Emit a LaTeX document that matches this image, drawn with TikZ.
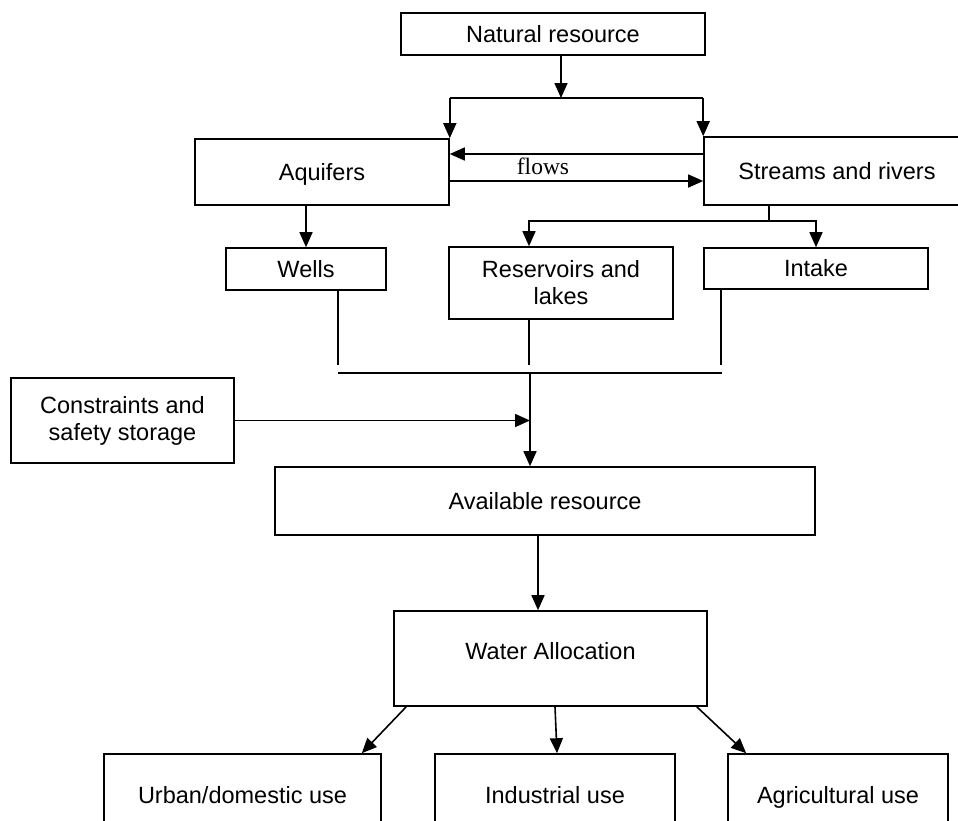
\documentclass[tikz,border=0pt]{standalone}
\usepackage{fontspec}
\setmainfont{Liberation Sans}
\newfontfamily\flowfont{Liberation Serif}
\usetikzlibrary{arrows.meta}

\begin{document}
\begin{tikzpicture}[x=1pt,y=-1pt,line width=1.6pt,
		box/.style={draw,inner sep=0pt,align=center,font=\fontsize{23.5}{27}\selectfont},
		oneline/.style={text height=21.8pt,text depth=5pt},
		arr/.style={-{Triangle[length=15pt,width=13pt]}}]
		\useasboundingbox (0,0) rectangle (958,820);
		%%%%%%%%%%%%%%%%%%%%%%%%%%%%%%%%%
		\node[box,oneline,minimum width=304pt,minimum height=42pt] (nat) at (553,34) {Natural resource};
		\node[box,oneline,minimum width=254pt,minimum height=66pt] (aqu) at (322,172) {Aquifers};
		\node[box,oneline,minimum width=266pt,minimum height=68pt] (str) at (837,171) {Streams and rivers};
		\node[font=\flowfont\fontsize{23.5}{27}\selectfont] (flw) at (543,166) {flows};
		\coordinate (top) at (561,98);
		\coordinate (fl1) at (0,154);
		\coordinate (fl2) at (0,181);
		\draw[arr] (nat.south -| top) -- (top);
		\draw (aqu.north east |- top) -- (str.north west |- top);
		\draw[arr] (aqu.north east |- top) -- (aqu.north east);
		\draw[arr] (str.north west |- top) -- (str.north west);
		\draw[arr] (str.west |- fl1) -- (aqu.east |- fl1);
		\draw[arr] (aqu.east |- fl2) -- (str.west |- fl2);
		%%%%%%%%%%%%%%%%%%%%%%%%%%%%%%%%%
		\node[box,oneline,minimum width=160pt,minimum height=42pt] (wel) at (306,269) {Wells};
		\node[box,minimum width=224pt,minimum height=72pt] (res) at (561,283) {Reservoirs and\\lakes};
		\node[box,oneline,minimum width=224pt,minimum height=41pt] (int) at (816,268.5) {Intake};
		\coordinate (sb) at (769,221);
		\coordinate (rj) at (529,221);
		\draw[arr] (aqu.south -| wel.north) -- (wel.north);
		\draw (str.south -| sb) -- (sb);
		\draw[arr] (sb) -| (int.north);
		\draw[arr] (sb) -- (rj) -- (res.north -| rj);
		%%%%%%%%%%%%%%%%%%%%%%%%%%%%%%%%%
		\coordinate (wj) at (338,365);
		\coordinate (rsj) at (529,365);
		\coordinate (ij) at (721,365);
		\coordinate (hl) at (338,373);
		\coordinate (hr) at (722,373);
		\coordinate (bj) at (530,373);
		\draw (wel.south -| wj) -- (wj);
		\draw (res.south -| rsj) -- (rsj);
		\draw (int.south -| ij) -- (ij);
		\draw (hl) -- (hr);
		%%%%%%%%%%%%%%%%%%%%%%%%%%%%%%%%%
		\node[box,minimum width=223pt,minimum height=85pt] (con) at (122.5,420.5) {Constraints and\\safety storage};
		\node[box,oneline,minimum width=540pt,minimum height=68pt] (ava) at (545,501) {Available resource};
		\draw[arr] (bj) -- (ava.north -| bj);
		\draw[arr] (con.east) -- (con.east -| bj);
		%%%%%%%%%%%%%%%%%%%%%%%%%%%%%%%%%
		\node[box,text height=16.8pt,text depth=15pt,minimum width=313pt,minimum height=95pt] (wat) at (550.5,658.5) {Water Allocation};
		\coordinate (aw) at (538,0);
		\draw[arr] (ava.south -| aw) -- (wat.north -| aw);
		\node[box,oneline,minimum width=277pt,minimum height=82pt] (urb) at (242.5,795) {Urban/domestic use};
		\node[box,oneline,minimum width=240pt,minimum height=82pt] (ind) at (555,795) {Industrial use};
		\node[box,oneline,minimum width=220pt,minimum height=82pt] (agr) at (838,795) {Agricultural use};
		\draw[arr] ([xshift=13pt]wat.south west) -- ([xshift=-20pt]urb.north east);
		\draw[arr] ([xshift=4.5pt]wat.south) -- ([xshift=2pt]ind.north);
		\draw[arr] ([xshift=-11pt]wat.south east) -- ([xshift=19pt]agr.north west);
	\end{tikzpicture}
\end{document}
